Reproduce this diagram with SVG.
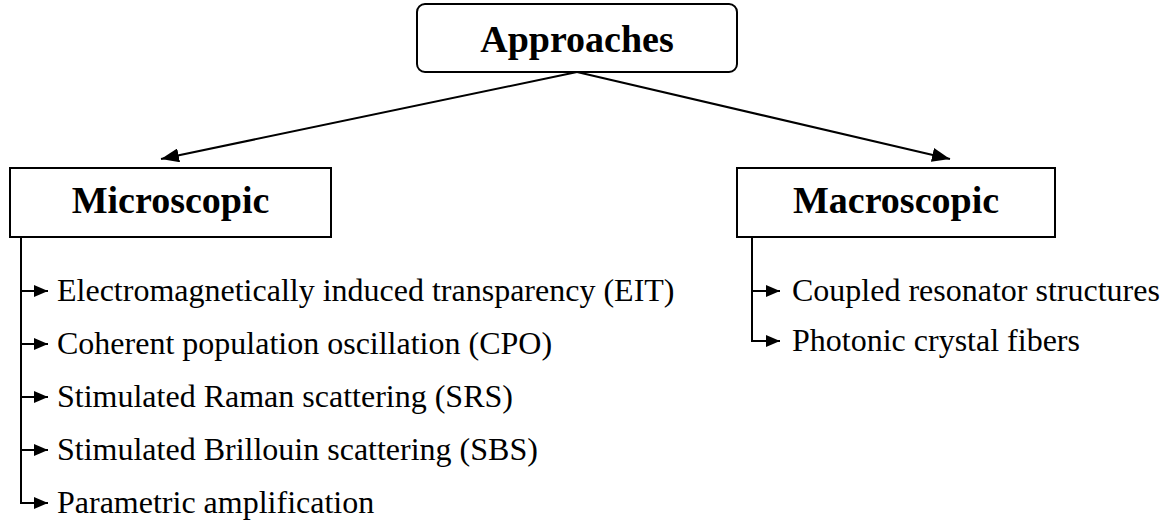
<svg xmlns="http://www.w3.org/2000/svg" width="1168" height="528" viewBox="0 0 1168 528">
<style>
.box{fill:#fff;stroke:#000;stroke-width:2}
.h{font-family:"Liberation Serif","Times New Roman",serif;font-weight:bold;font-size:38px;text-anchor:middle;fill:#000}
.t{font-family:"Liberation Serif","Times New Roman",serif;font-size:32px;fill:#000}
.ln{fill:none;stroke:#000;stroke-width:2}
</style>
<defs>
<marker id="ah" markerWidth="18" markerHeight="14" refX="18" refY="7" orient="auto" markerUnits="userSpaceOnUse"><path d="M0,0 L18,7 L0,14 Z" fill="#000"/></marker>
<marker id="sh" markerWidth="14" markerHeight="12" refX="14" refY="6" orient="auto" markerUnits="userSpaceOnUse"><path d="M0,0 L14,6 L0,12 Z" fill="#000"/></marker>
</defs>
<g id="connectors">
<line class="ln" x1="577" y1="72" x2="161" y2="159" marker-end="url(#ah)"/>
<line class="ln" x1="577" y1="72" x2="950" y2="159" marker-end="url(#ah)"/>
<path class="ln" d="M21,237 V503"/>
<line class="ln" x1="21" y1="291" x2="48" y2="291" marker-end="url(#sh)"/>
<line class="ln" x1="21" y1="344" x2="48" y2="344" marker-end="url(#sh)"/>
<line class="ln" x1="21" y1="397" x2="48" y2="397" marker-end="url(#sh)"/>
<line class="ln" x1="21" y1="450" x2="48" y2="450" marker-end="url(#sh)"/>
<line class="ln" x1="20" y1="503" x2="48" y2="503" marker-end="url(#sh)"/>
<path class="ln" d="M752,237 V341"/>
<line class="ln" x1="752" y1="291" x2="780" y2="291" marker-end="url(#sh)"/>
<line class="ln" x1="751" y1="341" x2="780" y2="341" marker-end="url(#sh)"/>
</g>
<g id="approaches">
<rect class="box" x="417" y="4" width="320" height="68" rx="8"/>
<text class="h" x="577" y="52">Approaches</text>
</g>
<g id="microscopic">
<rect class="box" x="10" y="168" width="321" height="69"/>
<text class="h" x="170.5" y="213">Microscopic</text>
</g>
<g id="macroscopic">
<rect class="box" x="737" y="168" width="318" height="69"/>
<text class="h" x="896" y="213">Macroscopic</text>
</g>
<g id="micro-items">
<text class="t" x="57" y="301">Electromagnetically induced transparency (EIT)</text>
<text class="t" x="57" y="354">Coherent population oscillation (CPO)</text>
<text class="t" x="57" y="407">Stimulated Raman scattering (SRS)</text>
<text class="t" x="57" y="460">Stimulated Brillouin scattering (SBS)</text>
<text class="t" x="57" y="513">Parametric amplification</text>
</g>
<g id="macro-items">
<text class="t" x="792" y="301">Coupled resonator structures</text>
<text class="t" x="792" y="351">Photonic crystal fibers</text>
</g>
</svg>
